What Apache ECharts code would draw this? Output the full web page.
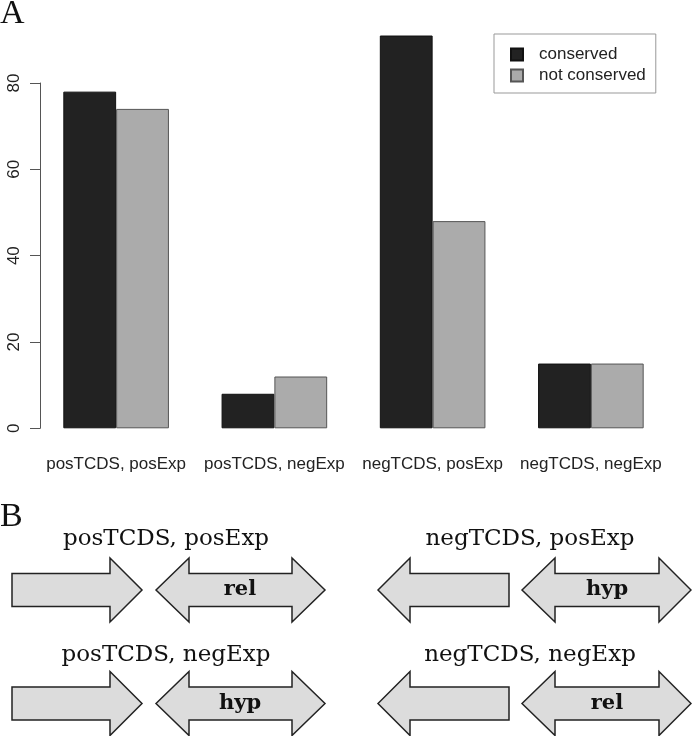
<!DOCTYPE html>
<html>
<head>
<meta charset="utf-8">
<script src="https://cdn.jsdelivr.net/npm/echarts@6/dist/echarts.min.js"></script>
<style>
html,body{margin:0;padding:0;background:#fff;}
#chart{width:692px;height:736px;}
</style>
</head>
<body>
<div id="chart"></div>
<script>
// ---- data ----
const categories = ['posTCDS, posExp', 'posTCDS, negExp', 'negTCDS, posExp', 'negTCDS, negExp'];
const seriesNames = ['conserved', 'not conserved'];
const conserved = [78, 8, 91, 15];
const notConserved = [74, 12, 48, 15];
const yTicks = [0, 20, 40, 60, 80];

// panel B labels
const panelTitles = ['posTCDS, posExp', 'negTCDS, posExp', 'posTCDS, negExp', 'negTCDS, negExp'];
const panelTags = ['rel', 'hyp', 'hyp', 'rel'];

// ---- panel B diagram geometry (layout only) ----
const rowsY = [590, 703.5];
const titleY = [539, 655];
const colTitleX = [166, 530];
const bodyH = 16.5, headH = 32;
const fill = '#dcdcdc', stroke = '#222';

function rightArrow(x0, xb, xt, yc) {
  return [[x0, yc - bodyH], [xb, yc - bodyH], [xb, yc - headH], [xt, yc], [xb, yc + headH], [xb, yc + bodyH], [x0, yc + bodyH]];
}
function leftArrow(xt, xb, x1, yc) {
  return [[xt, yc], [xb, yc - headH], [xb, yc - bodyH], [x1, yc - bodyH], [x1, yc + bodyH], [xb, yc + bodyH], [xb, yc + headH]];
}
function doubleArrow(xl, xbl, xbr, xr, yc) {
  return [[xl, yc], [xbl, yc - headH], [xbl, yc - bodyH], [xbr, yc - bodyH], [xbr, yc - headH], [xr, yc],
          [xbr, yc + headH], [xbr, yc + bodyH], [xbl, yc + bodyH], [xbl, yc + headH]];
}
function poly(points) {
  return { type: 'polygon', shape: { points: points }, style: { fill: fill, stroke: stroke, lineWidth: 1.5 } };
}
function txt(x, y, text, size, weight, family, align) {
  return {
    type: 'text', x: x, y: y,
    style: {
      text: text, fontSize: size, fontWeight: weight || 'normal', fontFamily: family,
      fill: '#111', align: align || 'center', verticalAlign: 'middle',
      textAlign: align || 'center', textVerticalAlign: 'middle'
    }
  };
}

const graphics = [];
graphics.push(txt(0, 14, 'A', 34, 'normal', '"Liberation Serif"', 'left'));
graphics.push(txt(0, 517, 'B', 34, 'normal', '"Liberation Serif"', 'left'));
for (let r = 0; r < 2; r++) {
  const yc = rowsY[r];
  graphics.push(poly(rightArrow(12, 110, 142, yc)));
  graphics.push(poly(doubleArrow(156, 189, 292, 325, yc)));
  graphics.push(poly(leftArrow(378, 410, 509, yc)));
  graphics.push(poly(doubleArrow(522, 555, 659, 691, yc)));
  graphics.push(txt(colTitleX[0], titleY[r], panelTitles[r * 2], 23, 'normal', '"DejaVu Serif"'));
  graphics.push(txt(colTitleX[1], titleY[r], panelTitles[r * 2 + 1], 23, 'normal', '"DejaVu Serif"'));
  graphics.push(txt(240, yc, panelTags[r * 2], 21, 'bold', '"DejaVu Serif"'));
  graphics.push(txt(607, yc, panelTags[r * 2 + 1], 21, 'bold', '"DejaVu Serif"'));
}

const chart = echarts.init(document.getElementById('chart'), null, { renderer: 'canvas' });
chart.setOption({
  animation: false,
  backgroundColor: '#fff',
  textStyle: { fontFamily: '"Liberation Sans", Arial, sans-serif' },
  grid: { left: 37, top: 83, width: 633, height: 345.3 },
  legend: {
    data: seriesNames,
    orient: 'vertical',
    left: 494, top: 34,
    padding: [12, 10, 9, 16],
    itemWidth: 12, itemHeight: 12, itemGap: 4,
    icon: 'rect',
    borderColor: '#999', borderWidth: 1,
    textStyle: { fontSize: 17, color: '#222', padding: [0, 0, 0, 11] }
  },
  xAxis: {
    type: 'category',
    data: categories,
    axisLine: { show: false },
    axisTick: { show: false },
    axisLabel: { interval: 0, hideOverlap: false, margin: 28, fontSize: 17, color: '#222' }
  },
  yAxis: {
    type: 'value',
    min: yTicks[0], max: yTicks[yTicks.length - 1], interval: 20,
    offset: -3,
    axisLine: { show: true, lineStyle: { color: '#555', width: 1 } },
    axisTick: { show: true, length: 10, lineStyle: { color: '#555' } },
    axisLabel: { rotate: 90, margin: 17, fontSize: 17, color: '#222' },
    splitLine: { show: false }
  },
  series: [
    {
      name: seriesNames[0], type: 'bar', data: conserved,
      barWidth: 52.8, barGap: '0%', clip: false,
      itemStyle: { color: '#222222', borderColor: '#111', borderWidth: 1 }
    },
    {
      name: seriesNames[1], type: 'bar', data: notConserved,
      barWidth: 52.8, barGap: '0%', clip: false,
      itemStyle: { color: '#ababab', borderColor: '#555', borderWidth: 1 }
    }
  ],
  graphic: graphics
});
</script>
</body>
</html>
